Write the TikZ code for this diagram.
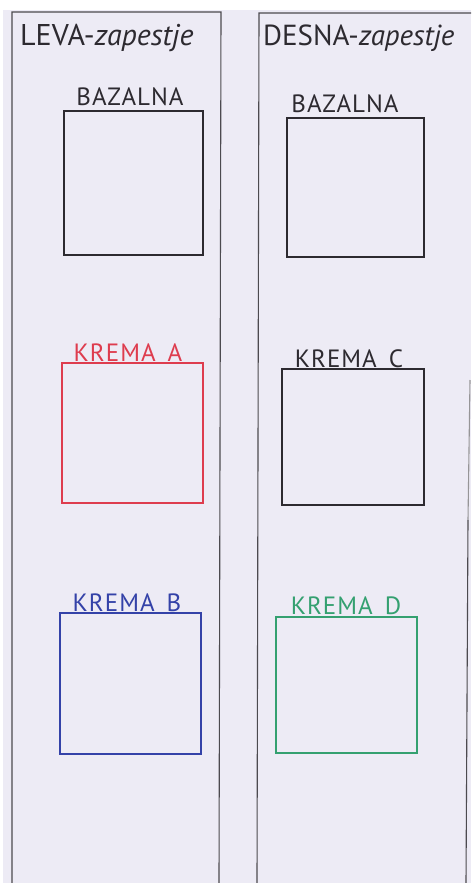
\documentclass[tikz,border=0pt]{standalone}
\usepackage{fontspec}
\setmainfont{PT Sans}
\definecolor{paper}{RGB}{237,235,245}
\definecolor{ink}{RGB}{45,42,48}
\definecolor{redink}{RGB}{222,60,78}
\definecolor{blueink}{RGB}{52,66,168}
\definecolor{greenink}{RGB}{52,160,112}
\begin{document}
\begin{tikzpicture}[x=1pt,y=-1pt,
  sq/.style={draw, line width=1.3pt, minimum width=#1, inner sep=0pt},
  lbl/.style={font=\fontsize{25}{25}\selectfont\addfontfeature{LetterSpace=4}, inner sep=0pt, anchor=base},
  ttl/.style={font=\fontsize{30}{30}\selectfont, inner sep=0pt, anchor=base west, text=ink},
  strip/.style={draw=ink!85, line width=1.1pt}]
\useasboundingbox (0,0) rectangle (471,883);
\fill[white] (0,0) rectangle (471,883);
\fill[paper] (3,10) rectangle (471,883);
% strips
\draw[strip] (12,883) -- (12,12) -- (221,12) -- (219,883);
\draw[strip] (257,883) -- (259,13) -- (471,13);
\draw[strip, draw=ink!50] (470,380) -- (468,520);
\draw[strip] (468,520) -- (466,883);
% titles
\node[ttl] (tl) at (20,46) {LEVA-\textit{zapestje}};
\node[ttl, font=\fontsize{29}{29}\selectfont] (tr) at (263,46) {DESNA-\textit{zapestje}};
% boxes
\node[sq=139pt, minimum height=144pt, draw=ink] (b1) at (133.5,183) {};
\node[sq=137pt, minimum height=139pt, draw=ink] (b2) at (355.5,187.5) {};
\node[sq=141pt, minimum height=140pt, draw=redink] (ka) at (132.5,433) {};
\node[sq=142pt, minimum height=136pt, draw=ink] (kc) at (353,437) {};
\node[sq=141pt, minimum height=141pt, draw=blueink] (kb) at (130.5,683.5) {};
\node[sq=141pt, minimum height=136pt, draw=greenink] (kd) at (346.5,685) {};
% labels
\node[lbl, text=ink] (l1) at (130,105) {BAZALNA};
\node[lbl, text=ink] (l2) at (345,112) {BAZALNA};
\node[lbl, text=redink] (la) at (128,361) {KREMA\hspace{12pt}A};
\node[lbl, text=ink] (lc) at (349,367) {KREMA\hspace{12pt}C};
\node[lbl, text=blueink] (lb) at (127,611) {KREMA\hspace{12pt}B};
\node[lbl, text=greenink] (ld) at (346,614) {KREMA\hspace{12pt}D};
\end{tikzpicture}
\end{document}
